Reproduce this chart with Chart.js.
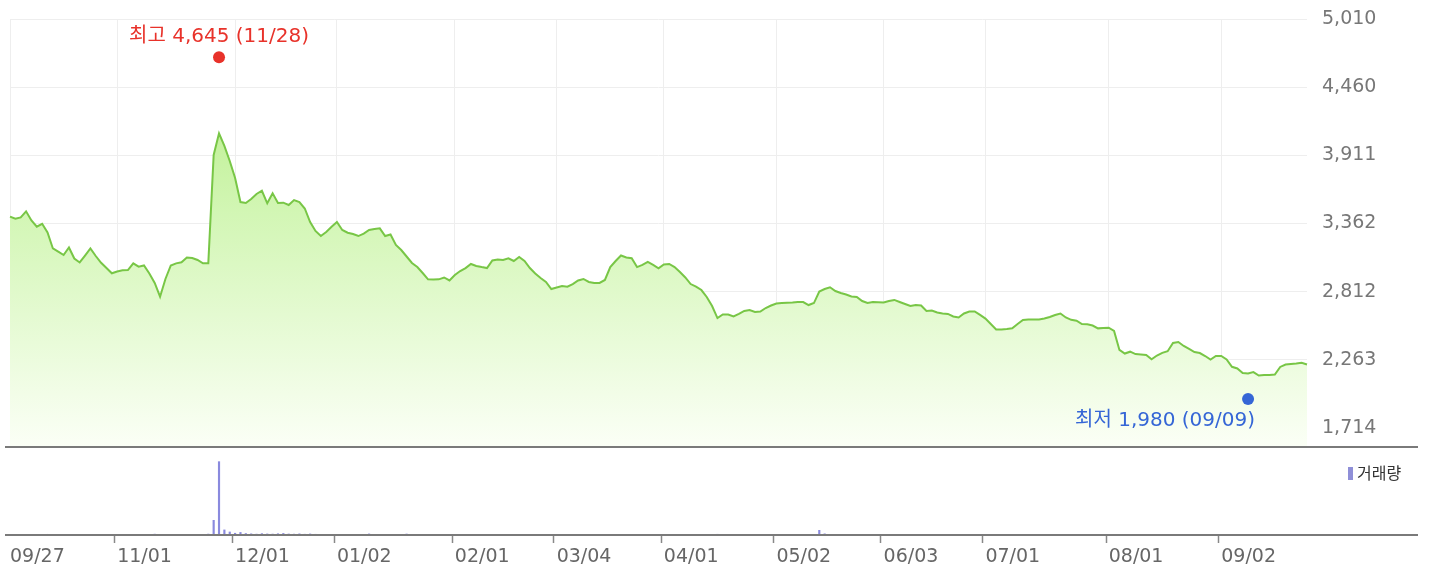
<!DOCTYPE html>
<html>
<head>
<meta charset="utf-8">
<script src="https://cdn.jsdelivr.net/npm/chart.js@4"></script>
<style>
    html, body { margin: 0; padding: 0; background: #fff; }
    #wrap { position: relative; width: 1429px; height: 577px; overflow: hidden; }
    canvas { position: absolute; left: 0; }
    #price { top: 0; }
    #vol { top: 445px; }
</style>
</head>
<body>
<div id="wrap">
    <canvas id="price" width="1429" height="447"></canvas>
    <canvas id="vol" width="1429" height="132"></canvas>
</div>
<script>
// trading days, 2023-09-27 .. 2024-09-27
const dates = [
    '09/27',
    '10/04','10/05','10/06','10/10','10/11','10/12','10/13','10/16','10/17','10/18','10/19','10/20','10/23','10/24','10/25','10/26','10/27','10/30','10/31',
    '11/01','11/02','11/03','11/06','11/07','11/08','11/09','11/10','11/13','11/14','11/15','11/16','11/17','11/20','11/21','11/22','11/23','11/24','11/27','11/28','11/29','11/30',
    '12/01','12/04','12/05','12/06','12/07','12/08','12/11','12/12','12/13','12/14','12/15','12/18','12/19','12/20','12/21','12/22','12/26','12/27','12/28',
    '01/02','01/03','01/04','01/05','01/08','01/09','01/10','01/11','01/12','01/15','01/16','01/17','01/18','01/19','01/22','01/23','01/24','01/25','01/26','01/29','01/30','01/31',
    '02/01','02/02','02/05','02/06','02/07','02/08','02/13','02/14','02/15','02/16','02/19','02/20','02/21','02/22','02/23','02/26','02/27','02/28','02/29',
    '03/04','03/05','03/06','03/07','03/08','03/11','03/12','03/13','03/14','03/15','03/18','03/19','03/20','03/21','03/22','03/25','03/26','03/27','03/28','03/29',
    '04/01','04/02','04/03','04/04','04/05','04/08','04/09','04/11','04/12','04/15','04/16','04/17','04/18','04/19','04/22','04/23','04/24','04/25','04/26','04/29','04/30',
    '05/02','05/03','05/07','05/08','05/09','05/10','05/13','05/14','05/16','05/17','05/20','05/21','05/22','05/23','05/24','05/27','05/28','05/29','05/30','05/31',
    '06/03','06/04','06/05','06/07','06/10','06/11','06/12','06/13','06/14','06/17','06/18','06/19','06/20','06/21','06/24','06/25','06/26','06/27','06/28',
    '07/01','07/02','07/03','07/04','07/05','07/08','07/09','07/10','07/11','07/12','07/15','07/16','07/17','07/18','07/19','07/22','07/23','07/24','07/25','07/26','07/29','07/30','07/31',
    '08/01','08/02','08/05','08/06','08/07','08/08','08/09','08/12','08/13','08/14','08/16','08/19','08/20','08/21','08/22','08/23','08/26','08/27','08/28','08/29','08/30',
    '09/02','09/03','09/04','09/05','09/06','09/09','09/10','09/11','09/12','09/13','09/19','09/20','09/23','09/24','09/25','09/26','09/27'
];

// closing price
const closes = [
    3417,3400,3411,3460,3386,3336,3360,3290,3161,3135,
    3108,3169,3080,3048,3104,3161,3100,3045,3003,2961,
    2975,2985,2987,3041,3014,3024,2959,2883,2772,2915,
    3024,3041,3050,3088,3084,3068,3041,3041,3914,4089,
    3987,3866,3729,3535,3527,3560,3600,3626,3525,3605,
    3527,3530,3511,3551,3535,3483,3374,3302,3261,3294,
    3336,3374,3310,3288,3277,3261,3281,3310,3318,3323,
    3261,3273,3189,3148,3096,3044,3011,2963,2912,2911,
    2912,2927,2903,2947,2979,3003,3036,3020,3011,3003,
    3064,3072,3068,3082,3060,3092,3060,3003,2959,2923,
    2891,2834,2846,2858,2853,2874,2903,2915,2891,2883,
    2883,2907,3011,3060,3104,3088,3082,3011,3028,3052,
    3028,3001,3032,3036,3011,2971,2927,2874,2854,2826,
    2770,2697,2600,2629,2629,2613,2633,2657,2665,2649,
    2653,2681,2701,2717,2721,2724,2725,2729,2729,2705,
    2721,2814,2834,2848,2818,2802,2790,2774,2770,2737,
    2721,2729,2727,2725,2737,2746,2729,2713,2697,2705,
    2701,2657,2661,2645,2637,2633,2613,2605,2637,2653,
    2653,2625,2596,2552,2508,2508,2512,2518,2552,2584,
    2588,2588,2588,2596,2609,2625,2637,2605,2586,2579,
    2552,2550,2540,2517,2520,2522,2496,2343,2314,2329,
    2310,2306,2302,2268,2298,2320,2333,2399,2407,2375,
    2351,2326,2318,2294,2266,2294,2294,2266,2207,2194,
    2157,2153,2165,2137,2141,2141,2145,2206,2225,2230,
    2234,2240,2226
];

// volume, thousand shares
const volume = [
    45,38,52,30,41,36,60,72,55,48,
    39,44,58,35,31,42,50,47,33,29,
    64,51,40,37,46,53,61,88,70,49,
    44,57,39,42,48,36,41,95,1500,7500,
    520,310,180,260,150,120,90,140,110,95,
    130,160,105,90,120,80,110,75,70,60,
    55,48,52,44,40,58,62,110,46,41,
    38,42,50,45,100,47,52,44,39,36,
    41,35,33,45,52,48,40,38,36,44,
    50,42,39,35,41,47,38,36,43,40,
    37,34,39,42,36,33,41,45,38,35,
    34,40,62,58,55,44,39,41,36,38,
    35,33,37,40,34,38,45,41,39,52,
    48,60,75,44,38,35,33,36,34,32,
    31,35,38,33,30,32,29,31,34,36,
    40,480,120,70,45,38,35,33,31,30,
    29,32,30,28,31,33,30,29,28,27,
    30,32,29,28,26,27,30,31,28,29,
    27,30,33,38,42,35,31,29,28,30,
    27,26,28,25,27,29,31,28,26,25,
    27,26,24,25,27,26,30,58,44,36,
    31,29,27,30,28,26,29,41,36,30,
    28,26,27,25,24,26,25,27,29,31,
    33,30,28,27,26,25,24,28,27,26,
    25,24,23
];

const monthTicks = ['09/27','11/01','12/01','01/02','02/01','03/04','04/01','05/02','06/03','07/01','08/01','09/02'];
const priceTicks = [1714, 2263, 2812, 3362, 3911, 4460, 5010];

// high / low of the period
const markNames = ['최고', '최저'];
const markDates = ['11/28', '09/09'];
const markValues = [4645, 1980];

const yMin = 1569;
const volMax = 9000;

// first occurrence only (09/27 shows up at both ends)
const tickIdx = new Set(monthTicks.map(d => dates.indexOf(d)));

const fmt = new Intl.NumberFormat('en-US');
const axisFont = { family: 'DejaVu Sans', size: 19 };

function fillGradient(c) {
    const area = c.chart.chartArea;
    if (!area) return 'rgba(200,240,170,0.6)';
    const g = c.chart.ctx.createLinearGradient(0, area.top, 0, area.bottom);
    g.addColorStop(0, 'rgb(174,234,120)');
    g.addColorStop(0.45, 'rgb(210,246,180)');
    g.addColorStop(1, 'rgb(251,255,246)');
    return g;
}

const markerPlugin = {
    id: 'marks',
    afterDatasetsDraw(chart) {
        const { ctx, scales: { x, y } } = chart;
        const colors = ['#e8322a', '#3566d6'];
        const shift = [-7, 4];
        markDates.forEach((d, i) => {
            const px = x.getPixelForValue(dates.indexOf(d));
            const py = y.getPixelForValue(markValues[i]) + shift[i];
            const text = markNames[i] + ' ' + fmt.format(markValues[i]) + ' (' + d + ')';
            ctx.save();
            ctx.fillStyle = colors[i];
            ctx.beginPath();
            ctx.arc(px, py, 6, 0, Math.PI * 2);
            ctx.fill();
            ctx.font = '20px "DejaVu Sans", "Noto Sans CJK KR"';
            ctx.textBaseline = 'middle';
            if (i === 0) {
                ctx.textAlign = 'center';
                ctx.fillText(text, px, py - 20);
            } else {
                ctx.textAlign = 'right';
                ctx.fillText(text, px + 7, py + 22);
            }
            ctx.restore();
        });
    }
};

const framePlugin = {
    id: 'frame',
    afterDraw(chart) {
        const { ctx, chartArea } = chart;
        ctx.save();
        ctx.strokeStyle = '#7a7a7a';
        ctx.lineWidth = 2;
        [chartArea.top, chartArea.bottom].forEach(yy => {
            ctx.beginPath();
            ctx.moveTo(5, yy);
            ctx.lineTo(1418, yy);
            ctx.stroke();
        });
        ctx.fillStyle = '#8f8fd8';
        ctx.fillRect(1348, 22, 5, 13);
        ctx.fillStyle = '#333';
        ctx.font = '16px "Noto Sans CJK KR"';
        ctx.textBaseline = 'middle';
        ctx.textAlign = 'left';
        ctx.fillText('거래량', 1357, 28);
        ctx.restore();
    }
};

new Chart(document.getElementById('price'), {
    type: 'line',
    data: {
        labels: dates,
        datasets: [{
            data: closes,
            borderColor: '#78c646',
            borderWidth: 2,
            pointRadius: 0,
            tension: 0,
            fill: 'start',
            backgroundColor: fillGradient
        }]
    },
    options: {
        responsive: false,
        animation: false,
        layout: { padding: { left: 10, top: 19, right: 0, bottom: 1 } },
        plugins: { legend: { display: false }, tooltip: { enabled: false } },
        scales: {
            x: {
                ticks: { display: false },
                border: { display: false },
                grid: {
                    drawTicks: false,
                    color: c => tickIdx.has(c.index) ? '#eeeeee' : 'transparent'
                },
                afterFit: s => { s.height = 0; s.paddingLeft = 0; s.paddingRight = 0; }
            },
            y: {
                position: 'right',
                min: yMin,
                max: 5010,
                afterBuildTicks: s => { s.ticks = priceTicks.map(v => ({ value: v })); },
                ticks: { padding: 15, color: '#777', font: axisFont, callback: v => fmt.format(v) },
                grid: { color: '#eeeeee', drawTicks: false },
                border: { display: false },
                afterFit: s => { s.width = 122; s.paddingTop = 0; s.paddingBottom = 0; }
            }
        }
    },
    plugins: [markerPlugin]
});

new Chart(document.getElementById('vol'), {
    type: 'bar',
    data: {
        labels: dates,
        datasets: [{ data: volume, backgroundColor: '#8a8ade', barThickness: 1.5 }]
    },
    options: {
        responsive: false,
        animation: false,
        layout: { padding: { left: 10, top: 2, right: 0, bottom: 0 } },
        plugins: { legend: { display: false }, tooltip: { enabled: false } },
        scales: {
            x: {
                offset: false,
                border: { display: false },
                grid: {
                    drawOnChartArea: false,
                    drawTicks: true,
                    tickLength: 8,
                    tickWidth: 1.5,
                    tickColor: c => tickIdx.has(c.index) ? '#888' : 'transparent'
                },
                ticks: {
                    autoSkip: false,
                    maxRotation: 0,
                    align: 'start',
                    padding: 3,
                    color: '#666',
                    font: axisFont,
                    callback: (v, i) => tickIdx.has(i) ? dates[i] : ''
                },
                afterFit: s => { s.height = 42; s.paddingLeft = 0; s.paddingRight = 0; }
            },
            y: {
                position: 'right',
                min: 0,
                max: volMax,
                ticks: { display: false },
                grid: { display: false },
                border: { display: false },
                afterFit: s => { s.width = 122; s.paddingTop = 0; s.paddingBottom = 0; }
            }
        }
    },
    plugins: [framePlugin]
});
</script>
</body>
</html>
